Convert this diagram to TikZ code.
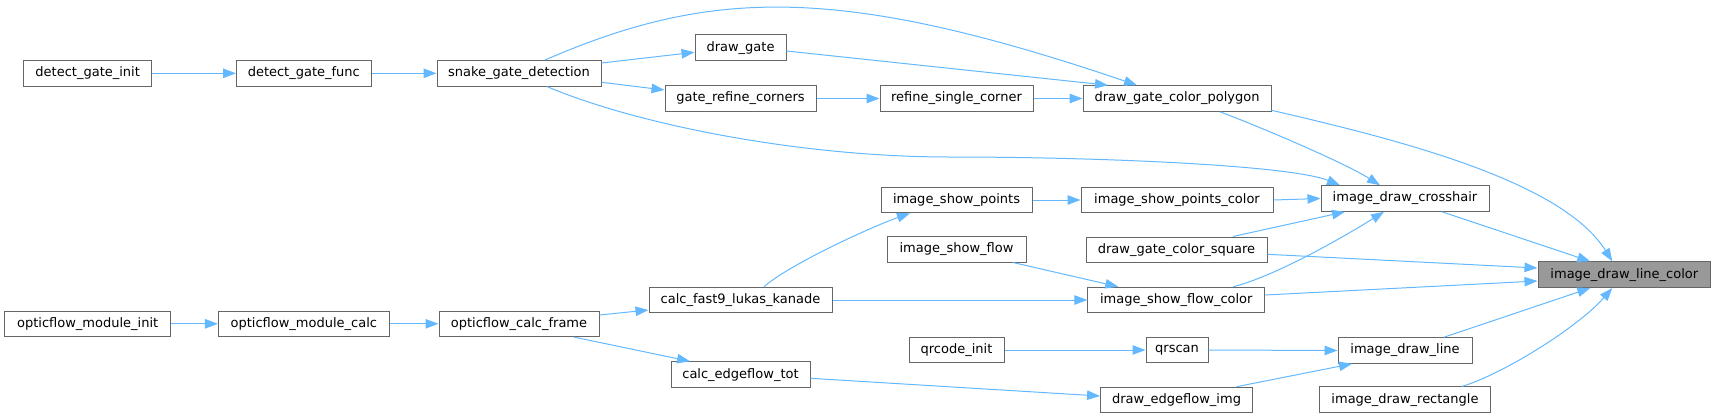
\documentclass[tikz,border=0pt]{standalone}
\usepackage{fontspec}
\setmainfont{DejaVu Sans}
\usetikzlibrary{arrows.meta}
\definecolor{edgeblue}{HTML}{63B8FF}
\definecolor{boxgray}{HTML}{666666}
\definecolor{rootfill}{HTML}{999999}
\tikzset{
  fn/.style={draw=boxgray, fill=white, line width=1pt, minimum height=25.6pt,
    inner sep=0pt, font=\fontsize{13}{15}\selectfont, text=black},
  rootnode/.style={fn, fill=rootfill},
  cg/.style={draw=edgeblue, line width=1pt, -{Triangle[length=13pt,width=9.5pt]}, edgeblue}
}
\begin{document}
\begin{tikzpicture}[x=1pt,y=-1pt]
\useasboundingbox (0,0) rectangle (1716,418);
% rank 0
\node[fn, minimum width=127.5pt] (dgi) at (87.7,73.3) {detect\_gate\_init};
\node[fn, minimum width=166pt] (omi) at (87.7,323.8) {opticflow\_module\_init};
% rank 1
\node[fn, minimum width=134.5pt] (dgf) at (303.8,73.3) {detect\_gate\_func};
\node[fn, minimum width=170.7pt] (omc) at (303.8,323.8) {opticflow\_module\_calc};
% rank 2
\node[fn, minimum width=164pt] (sgd) at (519,73.3) {snake\_gate\_detection};
\node[fn, minimum width=160pt] (ocf) at (519,323.8) {opticflow\_calc\_frame};
% rank 3
\node[fn, minimum width=91pt] (dg) at (740.5,47.7) {draw\_gate};
\node[fn, minimum width=151pt] (grc) at (740.5,98.5) {gate\_refine\_corners};
\node[fn, minimum width=183pt] (cflk) at (740.5,300) {calc\_fast9\_lukas\_kanade};
\node[fn, minimum width=139pt] (cet) at (740.5,374.6) {calc\_edgeflow\_tot};
% rank 4
\node[fn, minimum width=153pt] (rsc) at (956.5,98.5) {refine\_single\_corner};
\node[fn, minimum width=151pt] (isp) at (956.5,200) {image\_show\_points};
\node[fn, minimum width=139pt] (isf) at (956.5,249.2) {image\_show\_flow};
\node[fn, minimum width=95pt] (qi) at (956.5,350) {qrcode\_init};
% rank 5
\node[fn, minimum width=188pt] (dgcp) at (1177,98.5) {draw\_gate\_color\_polygon};
\node[fn, minimum width=192pt] (ispc) at (1177,200) {image\_show\_points\_color};
\node[fn, minimum width=181pt] (dgcs) at (1176.5,249.8) {draw\_gate\_color\_square};
\node[fn, minimum width=177pt] (isfc) at (1176.3,300) {image\_show\_flow\_color};
\node[fn, minimum width=62pt] (qs) at (1177,350) {qrscan};
\node[fn, minimum width=152pt] (dei) at (1176.5,400) {draw\_edgeflow\_img};
% rank 6
\node[fn, minimum width=168pt] (idc) at (1405,198.5) {image\_draw\_crosshair};
\node[fn, minimum width=134pt] (idl) at (1405,350.5) {image\_draw\_line};
\node[fn, minimum width=171pt] (idr) at (1405,399.7) {image\_draw\_rectangle};
% rank 7
\node[rootnode, minimum width=172.6pt] (idlc) at (1624.3,274.7) {image\_draw\_line\_color};
\coordinate (via1) at (950,157);
% edges
\draw[cg] (dgi.east) -- (dgf.west);
\draw[cg] (dgf.east) -- (sgd.west);
\draw[cg] ([yshift=10.3pt]sgd.east) -- ([yshift=-4.6pt]dg.west);
\draw[cg] ([yshift=-9pt]sgd.east) -- ([yshift=8.5pt]grc.west);
\draw[cg] ([xshift=26pt]sgd.north) .. controls +(164,-71) and +(-300,-102) .. ([xshift=-40pt]dgcp.north);
\draw[cg] ([yshift=-3.3pt]dg.east) -- ([xshift=-69pt]dgcp.north);
\draw[cg] (grc.east) -- (rsc.west);
\draw[cg] (rsc.east) -- (dgcp.west);
\draw[cg] ([xshift=28pt]sgd.south) .. controls +(90,38) and +(-150,0) .. (via1) .. controls +(150,0) and +(-50,-20) .. ([xshift=-65pt]idc.north);
\draw[cg] ([xshift=43pt]dgcp.south) .. controls +(45,17) and +(-35,-22) .. ([xshift=-25pt]idc.north);
\draw[cg] ([yshift=1.5pt]dgcp.south east) .. controls +(130,30) and +(-50,-80) .. ([xshift=-12pt]idlc.north);
\draw[cg] (isp.east) -- (ispc.west);
\draw[cg] (ispc.east) -- (idc.west);
\draw[cg] ([xshift=56.5pt]dgcs.north) -- ([xshift=-60pt]idc.south);
\draw[cg] ([xshift=57pt]isfc.north) .. controls +(40,-10) and +(-45,28) .. ([xshift=-21pt]idc.south);
\draw[cg] ([xshift=37pt]idc.south) -- ([xshift=-34pt]idlc.north);
\draw[cg] ([yshift=-4.5pt]dgcs.east) -- ([yshift=6.7pt]idlc.west);
\draw[cg] ([yshift=5pt]isfc.east) -- ([yshift=-6.3pt]idlc.west);
\draw[cg] ([xshift=56.5pt]isf.south) -- ([xshift=-58pt]isfc.north);
\draw[cg] ([xshift=23.5pt]cflk.north) .. controls +(25,-22) and +(-40,14) .. ([xshift=-46.5pt]isp.south);
\draw[cg] (cflk.east) -- (isfc.west);
\draw[cg] (omi.east) -- (omc.west);
\draw[cg] (omc.east) -- (ocf.west);
\draw[cg] ([yshift=8.8pt]ocf.east) -- ([yshift=-10pt]cflk.west);
\draw[cg] ([xshift=55pt]ocf.south) -- ([xshift=-50.5pt]cet.north);
\draw[cg] ([yshift=-3.7pt]cet.east) -- ([yshift=4pt]dei.west);
\draw[cg] (qi.east) -- (qs.west);
\draw[cg] (qs.east) -- (idl.west);
\draw[cg] ([xshift=60pt]dei.north) -- ([xshift=-53pt]idl.south);
\draw[cg] ([xshift=39pt]idl.north) -- ([xshift=-34pt]idlc.south);
\draw[cg] ([xshift=57pt]idr.north) .. controls +(40,-12) and +(-35,40) .. ([xshift=-12pt]idlc.south);
\end{tikzpicture}
\end{document}
